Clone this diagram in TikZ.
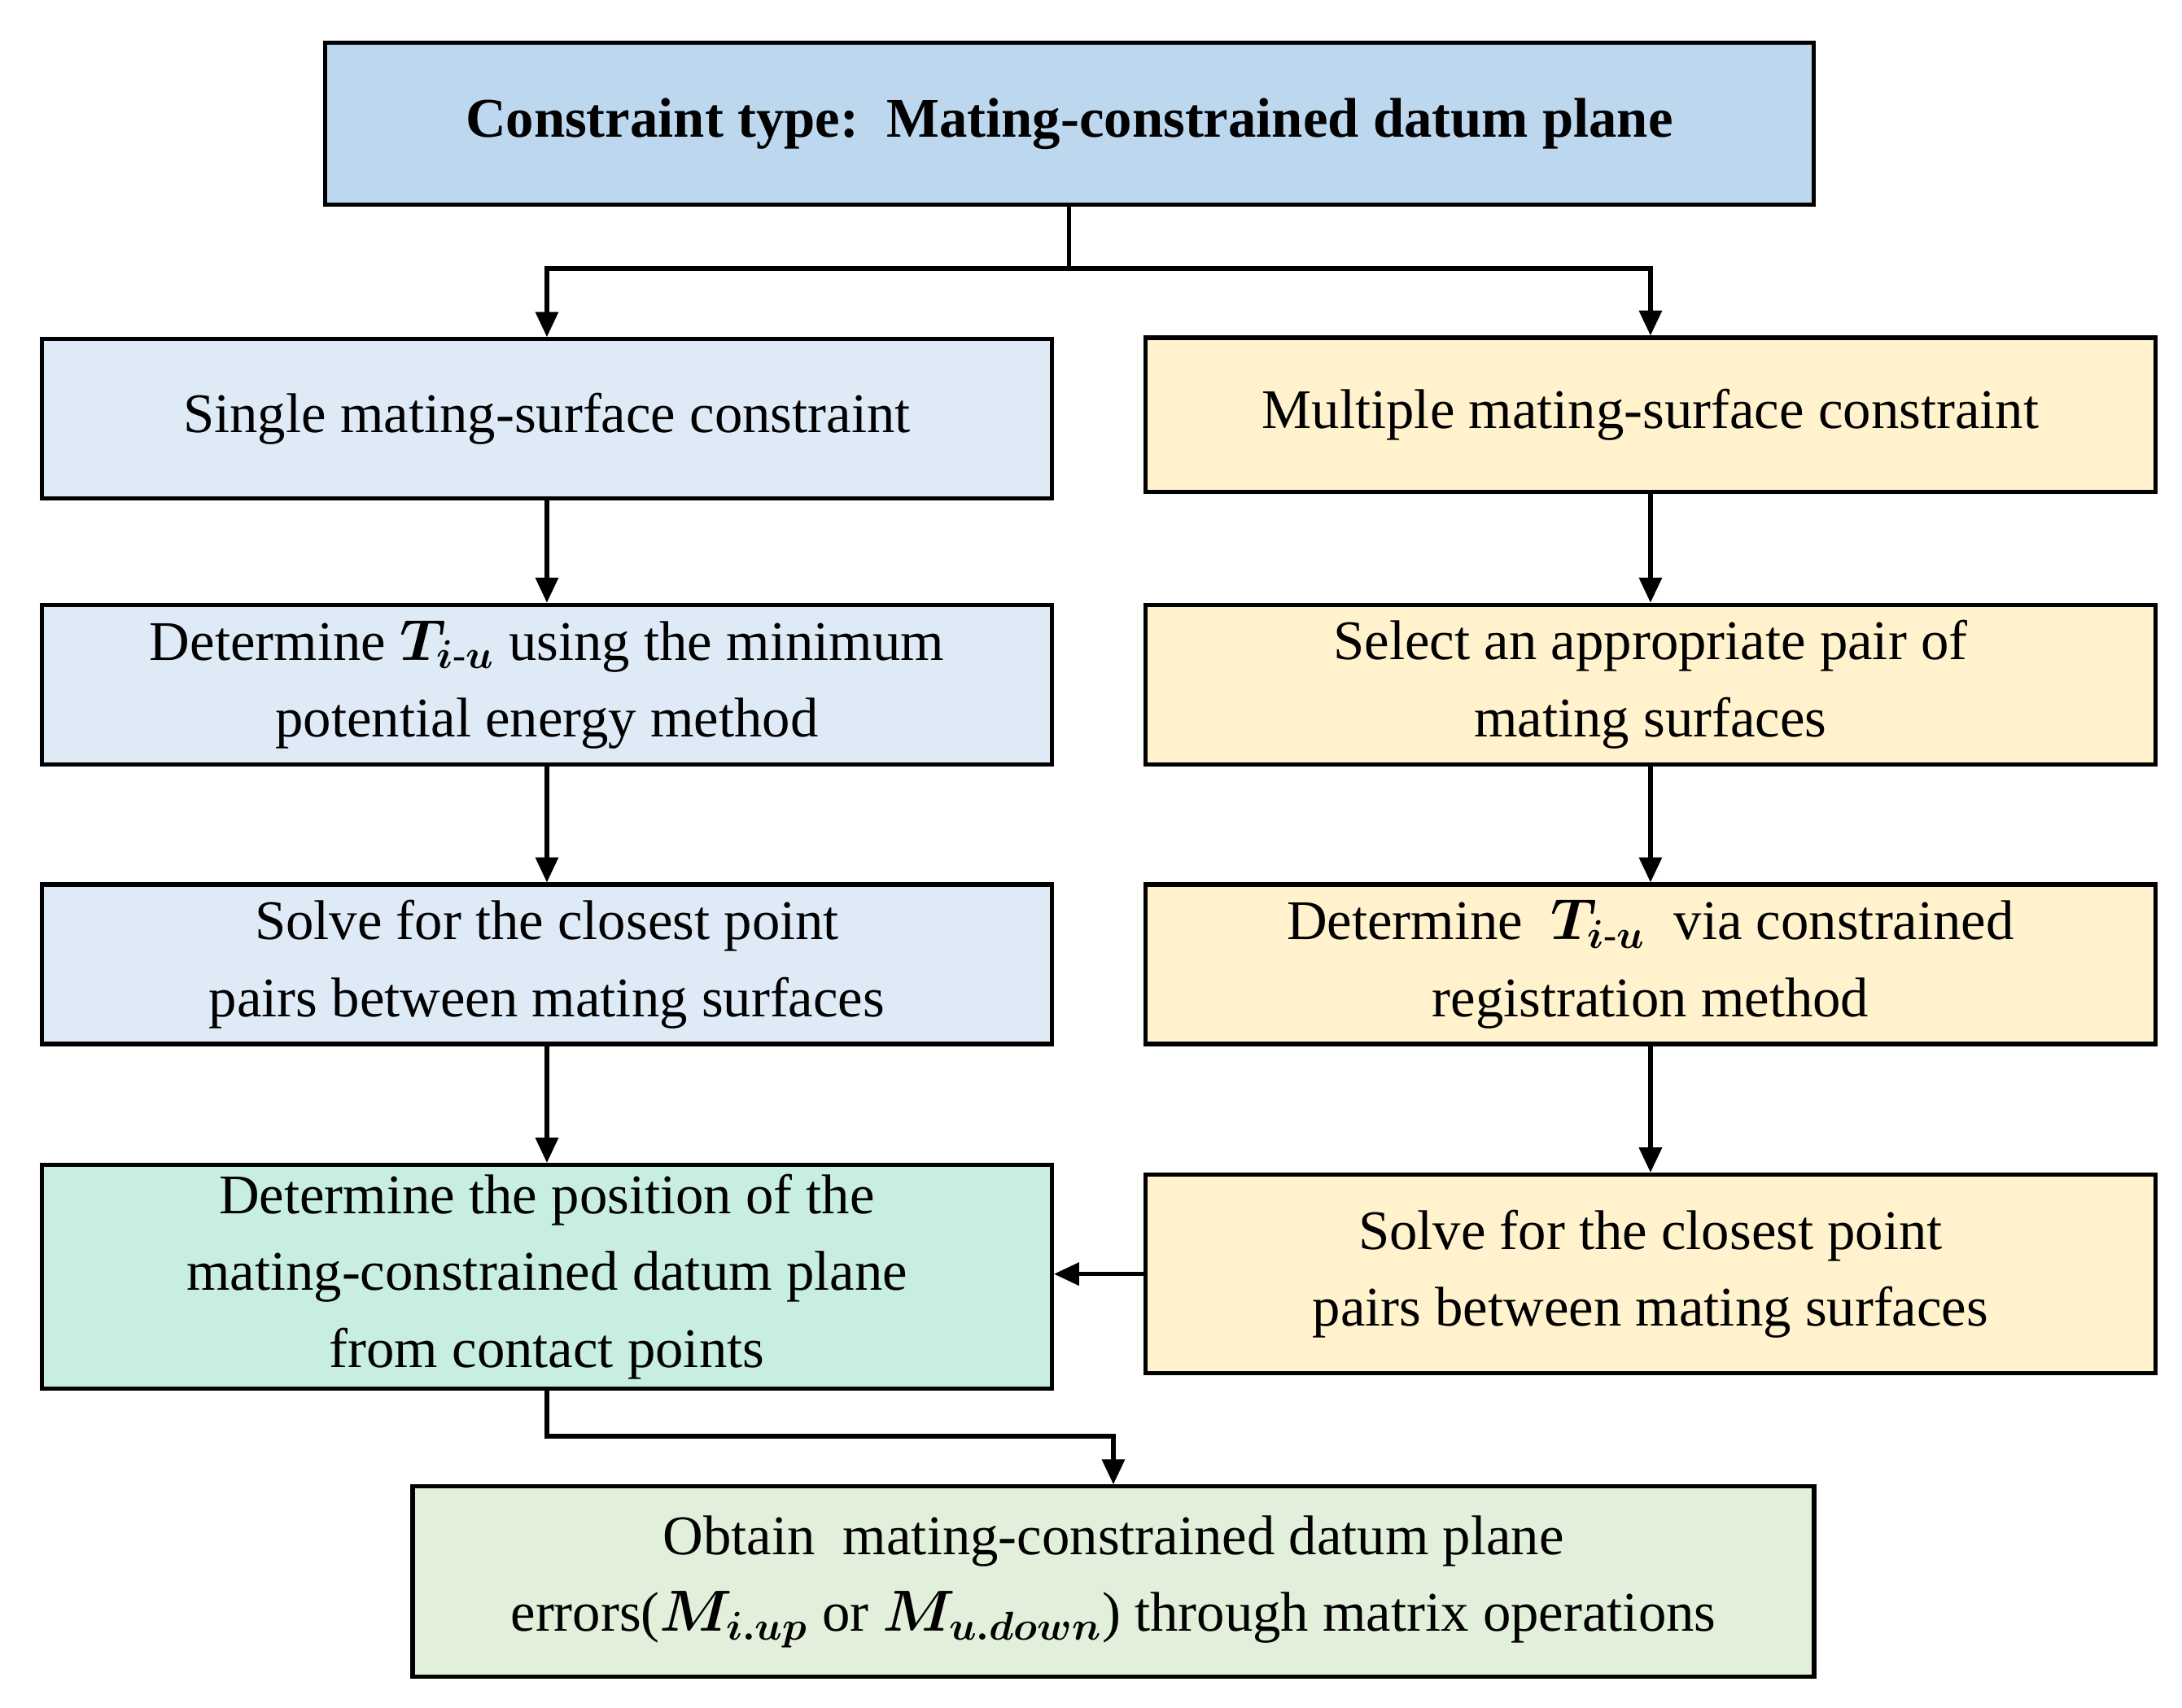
\documentclass[tikz,border=0pt]{standalone}
\usepackage{amsmath}
\usepackage{fontspec}
\setmainfont{Liberation Serif}
\usetikzlibrary{arrows.meta}
\definecolor{topblue}{RGB}{189,215,238}
\definecolor{leftblue}{RGB}{222,235,247}
\definecolor{rightyellow}{RGB}{255,242,204}
\definecolor{tealfill}{RGB}{200,238,228}
\definecolor{greenfill}{RGB}{226,239,218}
\tikzset{
  box/.style={draw=black,line width=1.5pt,align=center,inner sep=0pt,font=\fontsize{20}{27.5}\selectfont},
  link/.style={line width=1.5pt,-{Triangle[length=9pt,width=8pt]}}
}
\begin{document}
\begin{tikzpicture}[x=0.5pt,y=0.5pt,yscale=-1,xscale=1]
\useasboundingbox (0,0) rectangle (1560,1221);

% Boxes
\node [box,fill=topblue,minimum width=532pt,minimum height=58pt] (type) at (764.5,88.5) {\textbf{Constraint type:\ \ Mating-constrained datum plane}};

\node [box,fill=leftblue,minimum width=361pt,minimum height=57pt] (single) at (391,299.5) {Single mating-surface constraint};
\node [box,fill=leftblue,minimum width=361pt,minimum height=57pt] (energy) at (391,489.5) {Determine $\boldsymbol{T_{i\text{-}u}}$ using the minimum\\potential energy method};
\node [box,fill=leftblue,minimum width=361pt,minimum height=57pt] (closeL) at (391,689.5) {Solve for the closest point\\pairs between mating surfaces};
\node [box,fill=tealfill,minimum width=361pt,minimum height=80pt] (position) at (391,913) {Determine the position of the\\mating-constrained datum plane\\from contact points};

\node [box,fill=rightyellow,minimum width=361pt,minimum height=55pt] (multiple) at (1180,296.5) {Multiple mating-surface constraint};
\node [box,fill=rightyellow,minimum width=361pt,minimum height=57pt] (select) at (1180,489.5) {Select an appropriate pair of\\mating surfaces};
\node [box,fill=rightyellow,minimum width=361pt,minimum height=57pt] (regist) at (1180,689.5) {Determine\ \ $\boldsymbol{T_{i\text{-}u}}$\ \ via constrained\\registration method};
\node [box,fill=rightyellow,minimum width=361pt,minimum height=71pt] (closeR) at (1180,911) {Solve for the closest point\\pairs between mating surfaces};

\node [box,fill=greenfill,minimum width=501pt,minimum height=68pt] (obtain) at (796,1131) {Obtain\ \ mating-constrained datum plane\\errors($\boldsymbol{M_{i.up}}$ or $\boldsymbol{M_{u.down}}$) through matrix operations};

% Connectors
\coordinate (split) at (764.5,192);
\draw [line width=1.5pt] (type.south) -- (split);
\draw [link] (split) -| (single.north);
\draw [link] (split) -| (multiple.north);
\draw [link] (single) -- (energy);
\draw [link] (energy) -- (closeL);
\draw [link] (closeL) -- (position);
\draw [link] (multiple) -- (select);
\draw [link] (select) -- (regist);
\draw [link] (regist) -- (closeR);
\draw [link] (closeR.west) -- (closeR.west -| position.east);
\coordinate (bend) at (391,1027);
\draw [link] (position.south) -- (bend) -| (obtain.north);

\end{tikzpicture}
\end{document}
